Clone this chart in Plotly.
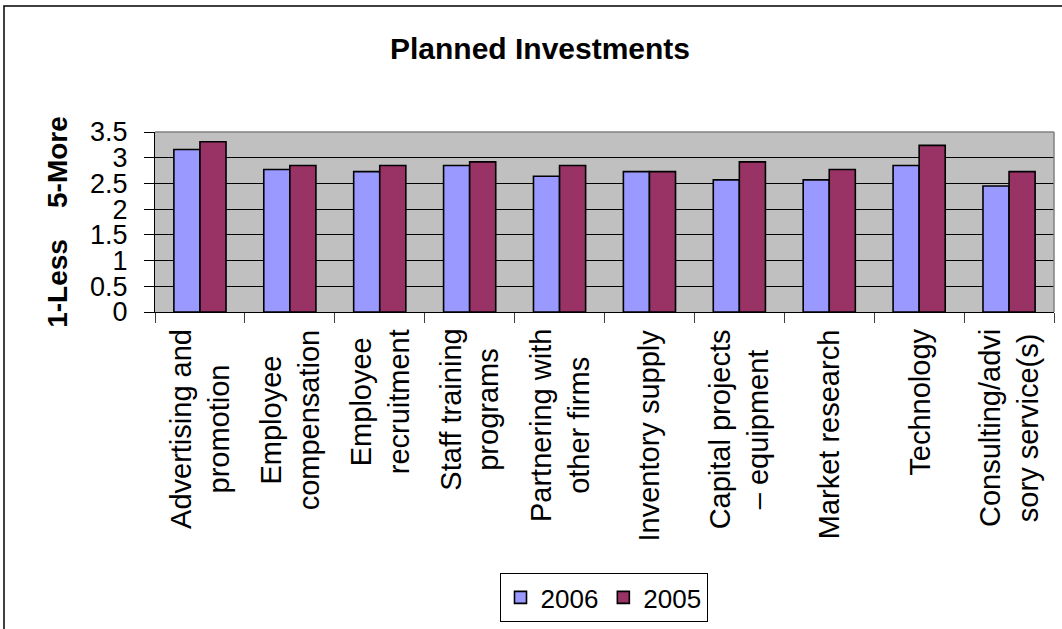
import plotly.graph_objects as go

# Survey data: planned investment level (1 = less, 5 = more)
categories = [
    "Advertising and promotion",
    "Employee compensation",
    "Employee recruitment",
    "Staff training programs",
    "Partnering with other firms",
    "Inventory supply",
    "Capital projects – equipment",
    "Market research",
    "Technology",
    "Consulting/advisory service(s)",
]
category_labels = [
    "Advertising and<br>promotion",
    "Employee<br>compensation",
    "Employee<br>recruitment",
    "Staff training<br>programs",
    "Partnering with<br>other firms",
    "Inventory supply",
    "Capital projects<br>– equipment",
    "Market research",
    "Technology",
    "Consulting/advi<br>sory service(s)",
]
values_2006 = [3.16, 2.77, 2.73, 2.85, 2.64, 2.73, 2.57, 2.57, 2.85, 2.45]
values_2005 = [3.31, 2.85, 2.85, 2.92, 2.85, 2.73, 2.92, 2.77, 3.24, 2.73]
y_ticks = [0, 0.5, 1, 1.5, 2, 2.5, 3, 3.5]

FONT = "Liberation Sans, Arial, Helvetica, sans-serif"
W, H = 1062, 629
ML, MR, MT, MB = 155, 8, 132, 317
PW, PH = W - ML - MR, H - MT - MB


def px_x(p):
    """Pixel column -> paper x."""
    return (p - ML) / PW


def px_y(p):
    """Pixel row -> paper y."""
    return (H - MB - p) / PH


fig = go.Figure()
fig.add_trace(go.Bar(
    name="2006", x=categories, y=values_2006,
    marker=dict(color="#9999FF", line=dict(color="black", width=1.6)),
))
fig.add_trace(go.Bar(
    name="2005", x=categories, y=values_2005,
    marker=dict(color="#993366", line=dict(color="black", width=1.6)),
))

# Category labels, rotated and centred line by line
annotations = []
for cat, lab in zip(categories, category_labels):
    annotations.append(dict(
        x=cat, xref="x", y=px_y(327), yref="paper",
        text=lab, textangle=-90, showarrow=False,
        xanchor="center", yanchor="top", align="center",
        font=dict(family=FONT, size=29, color="black"),
    ))

shapes = [
    # outer chart frame (runs past the right and bottom edges)
    dict(type="rect", xref="paper", yref="paper",
         x0=px_x(4), x1=px_x(1075), y0=px_y(645), y1=px_y(6),
         line=dict(color="black", width=1.5), fillcolor="rgba(0,0,0,0)",
         layer="above"),
    # plot-area border (top and right)
    dict(type="line", xref="paper", yref="paper", x0=0, x1=1, y0=1, y1=1,
         line=dict(color="#808080", width=1.5), layer="above"),
    dict(type="line", xref="paper", yref="paper", x0=1, x1=1, y0=0, y1=1,
         line=dict(color="#808080", width=1.5), layer="above"),
]

fig.update_layout(
    width=W, height=H,
    margin=dict(l=ML, r=MR, t=MT, b=MB, autoexpand=False),
    paper_bgcolor="white",
    plot_bgcolor="#C0C0C0",
    font=dict(family=FONT, color="black"),
    barmode="group",
    bargap=0.42,
    bargroupgap=0,
    showlegend=True,
    title=dict(
        text="<b>Planned Investments</b>",
        font=dict(family=FONT, size=30, color="black"),
        xref="container", x=540 / W, xanchor="center",
        yref="container", y=1 - 48 / H, yanchor="middle",
    ),
    legend=dict(
        orientation="h",
        x=px_x(603.5), xanchor="center",
        y=px_y(597.5), yanchor="middle",
        bordercolor="black", borderwidth=1,
        bgcolor="white",
        font=dict(family=FONT, size=26, color="black"),
        traceorder="normal",
        itemwidth=30,
    ),
    xaxis=dict(
        showticklabels=False,
        tickson="boundaries",
        ticks="outside", ticklen=10, tickcolor="#404040", tickwidth=1,
        showline=True, linecolor="black", linewidth=1,
        showgrid=False, zeroline=False,
        automargin=False,
    ),
    yaxis=dict(
        range=[0, 3.5],
        tickvals=y_ticks,
        ticks="outside", ticklen=10, tickcolor="black", tickwidth=1,
        ticklabelstandoff=11,
        tickfont=dict(family=FONT, size=27, color="black"),
        showline=True, linecolor="black", linewidth=1,
        showgrid=True, gridcolor="black", gridwidth=1,
        zeroline=False,
        title=dict(
            text="<b>1-Less\u00a0\u00a0\u00a0\u00a05-More</b>",
            font=dict(family=FONT, size=28, color="black"),
            standoff=14,
        ),
        automargin=False,
    ),
    annotations=annotations,
    shapes=shapes,
)

fig.write_html("out.html")
